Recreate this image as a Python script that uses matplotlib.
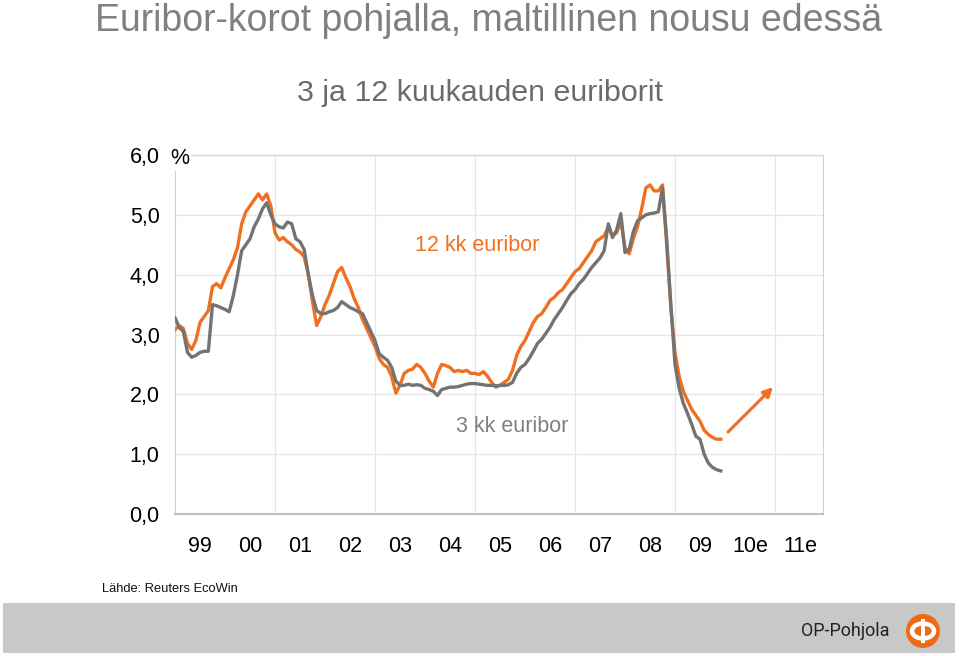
import matplotlib.pyplot as plt
from matplotlib.patches import Rectangle, Circle, Ellipse
import numpy as np

plt.rcParams['font.family'] = ['Liberation Sans', 'DejaVu Sans']

# kuukausiarvot tammikuu 1999 - joulukuu 2009 (%)
euribor_3kk = (
    [3.28, 3.12, 3.05, 2.70, 2.62, 2.65, 2.70, 2.72, 2.72, 3.50, 3.48, 3.45] +  # 1999
    [3.42, 3.38, 3.65, 4.00, 4.40, 4.50, 4.60, 4.80, 4.93, 5.10, 5.20, 5.00] +  # 2000
    [4.85, 4.80, 4.78, 4.88, 4.85, 4.60, 4.55, 4.42, 4.00, 3.65, 3.40, 3.35] +  # 2001
    [3.35, 3.38, 3.40, 3.45, 3.55, 3.50, 3.45, 3.42, 3.38, 3.35, 3.20, 3.05] +  # 2002
    [2.90, 2.68, 2.62, 2.57, 2.45, 2.22, 2.15, 2.15, 2.17, 2.15, 2.16, 2.15] +  # 2003
    [2.10, 2.08, 2.05, 1.98, 2.08, 2.10, 2.12, 2.12, 2.13, 2.15, 2.17, 2.18] +  # 2004
    [2.18, 2.17, 2.16, 2.15, 2.15, 2.14, 2.15, 2.15, 2.16, 2.20, 2.35, 2.45] +  # 2005
    [2.50, 2.60, 2.72, 2.85, 2.92, 3.02, 3.12, 3.25, 3.35, 3.45, 3.57, 3.68] +  # 2006
    [3.75, 3.85, 3.92, 4.02, 4.12, 4.20, 4.28, 4.40, 4.85, 4.62, 4.75, 5.02] +  # 2007
    [4.37, 4.42, 4.72, 4.90, 4.95, 5.00, 5.02, 5.03, 5.05, 5.45, 4.60, 3.50] +  # 2008
    [2.50, 2.10, 1.85, 1.68, 1.50, 1.30, 1.25, 1.00, 0.85, 0.78, 0.74, 0.72]    # 2009
)
euribor_12kk = (
    [3.08, 3.15, 3.10, 2.85, 2.75, 2.90, 3.20, 3.30, 3.40, 3.80, 3.85, 3.78] +  # 1999
    [3.95, 4.10, 4.25, 4.45, 4.85, 5.05, 5.15, 5.25, 5.35, 5.25, 5.35, 5.15] +  # 2000
    [4.70, 4.58, 4.62, 4.55, 4.50, 4.42, 4.38, 4.30, 4.00, 3.55, 3.15, 3.30] +  # 2001
    [3.50, 3.65, 3.85, 4.05, 4.12, 3.95, 3.80, 3.60, 3.45, 3.25, 3.10, 2.95] +  # 2002
    [2.80, 2.60, 2.50, 2.45, 2.30, 2.02, 2.15, 2.35, 2.40, 2.42, 2.50, 2.45] +  # 2003
    [2.35, 2.22, 2.12, 2.35, 2.50, 2.48, 2.45, 2.38, 2.40, 2.38, 2.40, 2.35] +  # 2004
    [2.35, 2.33, 2.38, 2.30, 2.20, 2.12, 2.15, 2.20, 2.25, 2.40, 2.65, 2.80] +  # 2005
    [2.90, 3.05, 3.20, 3.30, 3.35, 3.45, 3.57, 3.62, 3.70, 3.75, 3.85, 3.95] +  # 2006
    [4.05, 4.10, 4.20, 4.30, 4.40, 4.55, 4.60, 4.65, 4.80, 4.65, 4.70, 4.90] +  # 2007
    [4.45, 4.35, 4.60, 4.80, 5.10, 5.45, 5.50, 5.40, 5.40, 5.50, 4.50, 3.45] +  # 2008
    [2.70, 2.30, 2.05, 1.90, 1.75, 1.65, 1.55, 1.40, 1.33, 1.28, 1.25, 1.25]    # 2009
)
vuodet = ['99', '00', '01', '02', '03', '04', '05', '06', '07', '08', '09', '10e', '11e']
y_ticks = [0, 1, 2, 3, 4, 5, 6]

t = np.arange(len(euribor_3kk)) / 12.0

orange = '#F07020'
grey = '#737373'

fig = plt.figure(figsize=(9.59, 6.56), dpi=100)
W, H = 959, 656

# taustalle pikselikoordinaatit
bg = fig.add_axes([0, 0, 1, 1])
bg.set_xlim(0, W)
bg.set_ylim(H, 0)
bg.axis('off')
bg.add_patch(Rectangle((3, 603), 952, 50, color='#C8C8C8', lw=0))
bg.add_patch(Circle((923, 631), 17, color='#EE6A13', lw=0))
bg.add_patch(Ellipse((923, 631), 22, 15, facecolor='none', edgecolor='white', lw=3.2))
bg.add_patch(Rectangle((921, 619), 4, 24, color='white', lw=0))
bg.text(845, 631, 'OP-Pohjola', fontsize=13, color='#222222', ha='center', va='center',
        family=['Roboto', 'DejaVu Sans'])
bg.text(489, 21, 'Euribor-korot pohjalla, maltillinen nousu edessä', fontsize=27,
        color='#808080', ha='center', va='center')
bg.text(480, 93, '3 ja 12 kuukauden euriborit', fontsize=21.9, color='#6b6b6b',
        ha='center', va='center')
bg.text(102, 589, 'Lähde: Reuters EcoWin', fontsize=9.3, color='#111111',
        ha='left', va='center')

ax = fig.add_axes([175 / W, (H - 514) / H, 648 / W, 359 / H])
ax.set_xlim(0, 12.96)
ax.set_ylim(0, 6)

ax.plot(t, euribor_12kk, color=orange, lw=2.4, zorder=3)
ax.plot(t, euribor_3kk, color=grey, lw=2.4, zorder=4)

ax.annotate('', xy=(11.96, 2.12), xytext=(11.06, 1.37),
            arrowprops=dict(arrowstyle='-|>', color=orange, lw=2.2,
                            mutation_scale=14, shrinkA=0, shrinkB=0))

ax.text(4.8, 4.48, '12 kk euribor', color=orange, fontsize=15.5, va='center', ha='left')
ax.text(5.62, 1.47, '3 kk euribor', color='#808080', fontsize=15.5, va='center', ha='left')

ax.set_yticks(y_ticks)
ax.set_yticklabels([f'{v},0' for v in y_ticks], fontsize=15.5)
ax.set_xticks([2, 4, 6, 8, 10, 12])
ax.set_xticklabels([])
ax.set_xticks(np.arange(len(vuodet)) + 0.5, minor=True)
ax.set_xticklabels(vuodet, minor=True, fontsize=15.5)
ax.tick_params(axis='y', length=0, pad=11)
ax.tick_params(axis='x', which='both', length=0, pad=16)
ax.grid(True, which='major', color='#E6E6E6', lw=0.9)
ax.set_axisbelow(True)

ax.spines['top'].set_visible(False)
ax.spines['left'].set_color('#D0D0D0')
ax.spines['right'].set_color('#D0D0D0')
ax.spines['bottom'].set_color('#C0C0C0')
ax.spines['bottom'].set_linewidth(1.5)
ax.axhline(6, color='#DADADA', lw=1.0, zorder=1, clip_on=False)

ax.text(-0.1, 5.94, '%', fontsize=15.5, ha='left', va='center', zorder=6,
        bbox=dict(facecolor='white', edgecolor='none', pad=1.5))

fig.savefig('out.png', dpi=100)
